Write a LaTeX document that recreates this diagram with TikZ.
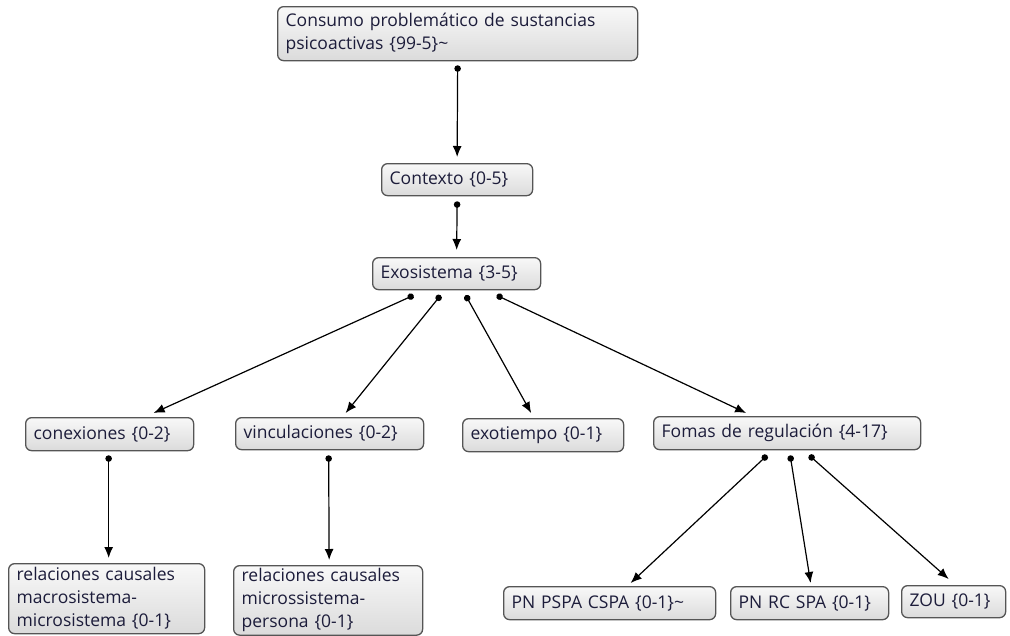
\documentclass[tikz,border=0pt]{standalone}
\usepackage{fontspec}
\setmainfont{Open Sans}
\usetikzlibrary{arrows.meta}
\definecolor{boxtext}{RGB}{28,28,58}
\definecolor{boxline}{RGB}{85,85,85}
\definecolor{boxfill}{RGB}{238,238,238}
\begin{document}
\begin{tikzpicture}[x=1pt,y=-1pt,
  box/.style={draw=boxline, line width=1.3pt, rounded corners=6pt,
    top color=white!60!boxfill, bottom color=boxfill!92!black,
    anchor=north west, align=left, inner xsep=8pt, inner ysep=3pt,
    text=boxtext, font=\fontsize{17.5}{23}\selectfont},
  conn/.style={line width=1.2pt, black,
    {Circle[length=6.5pt]}-{Latex[length=11pt,width=9pt]}}]
\useasboundingbox (0,0) rectangle (1010,635);

% boxes
\node[box, minimum width=360, minimum height=54, text width=344pt] (top) at (277,6)
  {Consumo problemático de sustancias\\psicoactivas \{99-5\}\textasciitilde};
\node[box, minimum width=151, minimum height=32, text width=135pt] (ctx) at (381,163)
  {Contexto \{0-5\}};
\node[box, minimum width=168, minimum height=32, text width=152pt] (exo) at (372,257)
  {Exosistema \{3-5\}};
\node[box, minimum width=168, minimum height=33, text width=152pt] (con) at (25,417)
  {conexiones \{0-2\}};
\node[box, minimum width=188, minimum height=32, text width=172pt] (vin) at (235,417)
  {vinculaciones \{0-2\}};
\node[box, minimum width=161, minimum height=33, text width=145pt] (exot) at (462,418)
  {exotiempo \{0-1\}};
\node[box, minimum width=267, minimum height=33, text width=251pt] (fom) at (653,416)
  {Fomas de regulación \{4-17\}};
\node[box, minimum width=196, minimum height=70, text width=180pt] (rma) at (8,563)
  {relaciones causales\\macrosistema-\\microsistema \{0-1\}};
\node[box, minimum width=189, minimum height=69, text width=173pt] (rmi) at (233,565)
  {relaciones causales\\microssistema-\\persona \{0-1\}};
\node[box, minimum width=212, minimum height=33, text width=196pt] (pn1) at (503,586)
  {PN PSPA CSPA \{0-1\}\textasciitilde};
\node[box, minimum width=158, minimum height=33, text width=142pt] (pn2) at (730,586)
  {PN RC SPA \{0-1\}};
\node[box, minimum width=104, minimum height=32, text width=88pt] (zou) at (901,585)
  {ZOU \{0-1\}};

% connectors
\draw[conn] ([yshift=-4pt]top.south) -- ([yshift=6pt]ctx.north);
\draw[conn] ([yshift=-5pt]ctx.south) -- ([yshift=7pt]exo.north);
\draw[conn] ([xshift=-43pt,yshift=-5pt]exo.south) -- ([xshift=44pt,yshift=4pt]con.north);
\draw[conn] ([xshift=-16pt,yshift=-5pt]exo.south) -- ([xshift=16pt,yshift=4pt]vin.north);
\draw[conn] ([xshift=9pt,yshift=-5pt]exo.south) -- ([xshift=-12pt,yshift=5pt]exot.north);
\draw[conn] ([xshift=40pt,yshift=-5pt]exo.south) -- ([xshift=-41pt,yshift=3pt]fom.north);
\draw[conn] ([xshift=-1pt,yshift=-4pt]con.south) -- ([xshift=2pt,yshift=5pt]rma.north);
\draw[conn] ([xshift=-1pt,yshift=-5pt]vin.south) -- ([xshift=1pt,yshift=5pt]rmi.north);
\draw[conn] ([xshift=-20pt,yshift=-5pt]fom.south) -- ([xshift=21pt,yshift=3pt]pn1.north);
\draw[conn] ([xshift=3pt,yshift=-5pt]fom.south) -- ([xshift=1pt,yshift=3pt]pn2.north);
\draw[conn] ([xshift=22pt,yshift=-5pt]fom.south) -- ([xshift=-5pt,yshift=6pt]zou.north);
\end{tikzpicture}
\end{document}
